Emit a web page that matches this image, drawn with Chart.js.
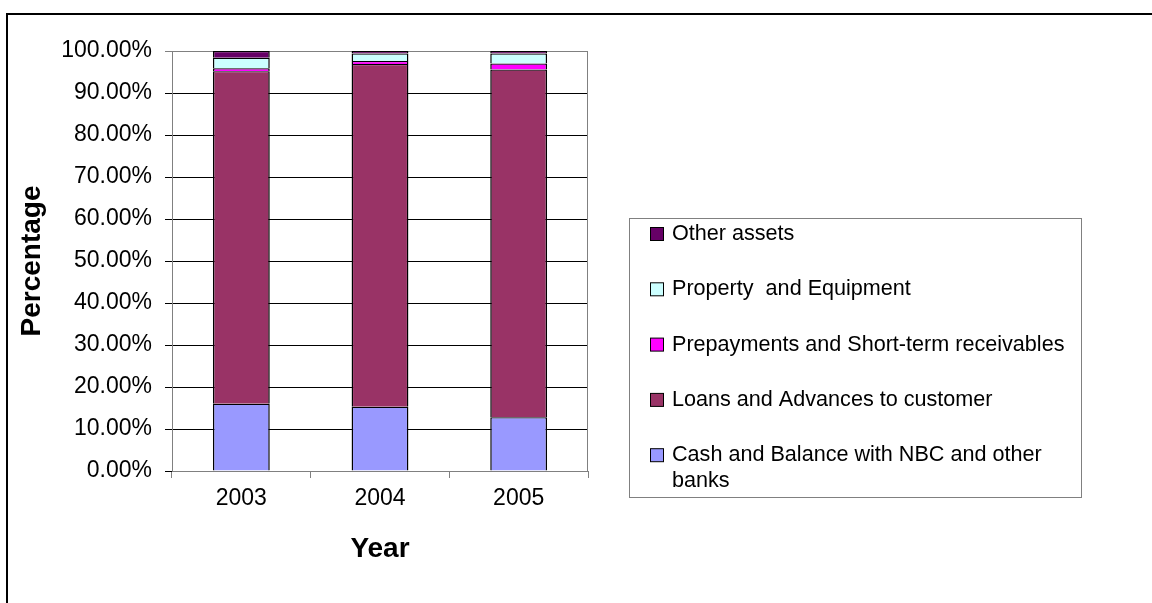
<!DOCTYPE html>
<html>
<head>
<meta charset="utf-8">
<script src="https://cdn.jsdelivr.net/npm/chart.js@4/dist/chart.umd.min.js"></script>
<style>
  html, body { margin: 0; padding: 0; background: #fff; }
  #wrap { position: relative; width: 1152px; height: 603px; }
</style>
</head>
<body>
<div id="wrap"><canvas id="assetChart" width="1152" height="603"></canvas></div>
<script>
// asset composition by year (percent of total assets)
var years = ["2003", "2004", "2005"];
var cashBalance = [16.0, 15.3, 12.8];
var loansAdvances = [79.2, 81.6, 82.8];
var prepayments = [0.7, 0.7, 1.4];
var propertyEquipment = [2.5, 1.8, 2.4];
var otherAssets = [1.6, 0.6, 0.6];

var fontFam = "'Liberation Sans', Arial, sans-serif";

// page frame (top rule + left rule)
var framePlugin = {
    id: "frame",
    beforeDraw: function (chart) {
        var c = chart.ctx;
        c.save();
        c.fillStyle = "#fff";
        c.fillRect(0, 0, chart.width, chart.height);
        c.strokeStyle = "#000";
        c.lineWidth = 2;
        c.beginPath();
        c.moveTo(6, 14);
        c.lineTo(chart.width, 14);
        c.moveTo(7, 14);
        c.lineTo(7, chart.height);
        c.stroke();
        c.restore();
    }
};

// boxed legend on the right, last series on top
var boxLegend = {
    id: "boxLegend",
    afterDraw: function (chart) {
        var c = chart.ctx;
        var bx = 629.5, by = 218.5, bw = 452, bh = 279;
        c.save();
        c.strokeStyle = "#808080";
        c.lineWidth = 1;
        c.strokeRect(bx, by, bw, bh);
        c.font = "21.6px " + fontFam;
        c.fillStyle = "#000";
        c.textBaseline = "middle";
        var sets = chart.data.datasets.slice().reverse();
        var maxW = bx + bw - 672 - 6;
        sets.forEach(function (ds, i) {
            var cy = 234 + i * 55.3;
            c.fillStyle = ds.backgroundColor;
            c.fillRect(650.5, cy - 6.5, 13, 13);
            c.strokeStyle = "#000";
            c.strokeRect(650.5, cy - 6.5, 13, 13);
            c.fillStyle = "#000";
            // simple word wrap
            var words = ds.label.split(" ");
            var line = "", lines = [];
            words.forEach(function (w) {
                var t = line ? line + " " + w : w;
                if (c.measureText(t).width > maxW && line) {
                    lines.push(line);
                    line = w;
                } else {
                    line = t;
                }
            });
            lines.push(line);
            lines.forEach(function (l, k) {
                c.fillText(l, 672, cy + k * 26);
            });
        });
        c.restore();
    }
};

new Chart("assetChart", {
    type: "bar",
    data: {
        labels: years,
        datasets: [
            { label: "Cash and Balance with NBC and other banks", data: cashBalance, backgroundColor: "#9999FF" },
            { label: "Loans and Advances to customer", data: loansAdvances, backgroundColor: "#993366" },
            { label: "Prepayments and Short-term receivables", data: prepayments, backgroundColor: "#FF00FF" },
            { label: "Property  and Equipment", data: propertyEquipment, backgroundColor: "#CCFFFF" },
            { label: "Other assets", data: otherAssets, backgroundColor: "#660066" }
        ]
    },
    options: {
        responsive: false,
        animation: false,
        layout: { padding: { left: 10, right: 564, top: 51, bottom: 32 } },
        datasets: {
            bar: {
                borderColor: "#000",
                // only the top edge between stacked pieces, so thin pieces keep their fill
                borderWidth: { top: 1.2, right: 1.5, bottom: 0, left: 1.5 },
                borderSkipped: false,
                inflateAmount: 0,
                categoryPercentage: 1,
                barPercentage: 0.41
            }
        },
        plugins: {
            legend: { display: false },
            title: { display: false },
            tooltip: { enabled: false }
        },
        scales: {
            x: {
                stacked: true,
                grid: { offset: true, drawOnChartArea: false, color: "#808080", tickLength: 7 },
                border: { color: "#808080" },
                ticks: { color: "#000", font: { family: fontFam, size: 23 }, padding: 7 },
                title: { display: true, text: "Year", color: "#000", font: { family: fontFam, size: 28, weight: "bold" }, padding: { top: 4, bottom: 5 } },
                afterFit: function (s) { s.height = 100; }
            },
            y: {
                stacked: true,
                min: 0,
                max: 100,
                ticks: {
                    stepSize: 10,
                    color: "#000",
                    padding: 13,
                    font: { family: fontFam, size: 23 },
                    callback: function (v) { return v.toFixed(2) + "%"; }
                },
                grid: {
                    color: function (ctx) { return ctx.tick && ctx.tick.value === 100 ? "#808080" : "#000"; },
                    tickLength: 7
                },
                border: { color: "#808080" },
                title: { display: true, text: "Percentage", color: "#000", font: { family: fontFam, size: 28, weight: "bold" }, padding: { top: 5, bottom: 4 } },
                afterFit: function (s) { s.width = 162; }
            }
        }
    },
    plugins: [framePlugin, boxLegend, {
        // right border of the plot area
        id: "plotEdge",
        afterDatasetsDraw: function (chart) {
            var a = chart.chartArea, c = chart.ctx;
            c.save();
            c.strokeStyle = "#808080";
            c.lineWidth = 1;
            c.beginPath();
            c.moveTo(a.right - 0.5, a.top);
            c.lineTo(a.right - 0.5, a.bottom);
            c.stroke();
            c.restore();
        }
    }]
});
</script>
</body>
</html>
